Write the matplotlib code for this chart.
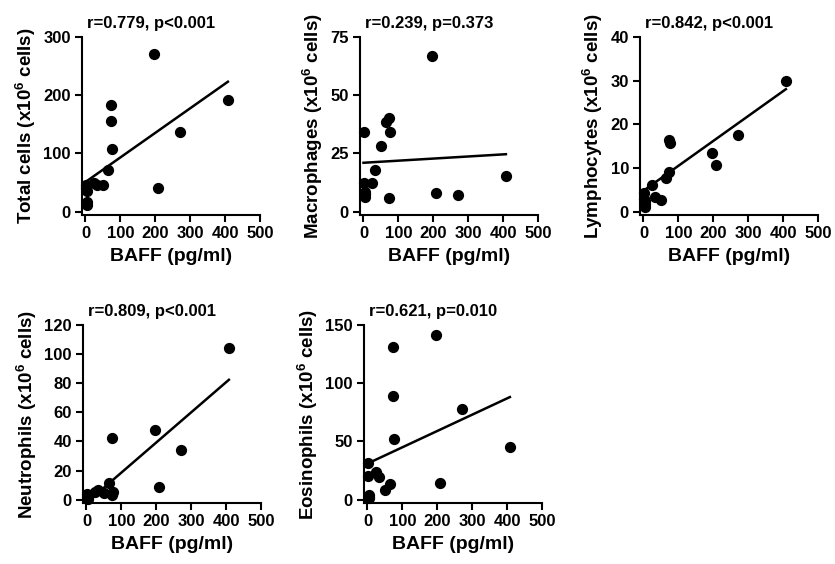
import numpy as np
import matplotlib
matplotlib.use("Agg")
import matplotlib.pyplot as plt

plt.rcParams['font.family'] = 'Liberation Sans'
plt.rcParams['font.weight'] = 'bold'
plt.rcParams['mathtext.fontset'] = 'custom'
plt.rcParams['mathtext.rm'] = 'Liberation Sans:bold'
plt.rcParams['mathtext.it'] = 'Liberation Sans:bold'
plt.rcParams['mathtext.bf'] = 'Liberation Sans:bold'

# BAFF (pg/ml), one value per mouse (n=16)
baff = [1, 2, 3, 4, 5, 24, 34, 49, 65, 72, 74, 75, 197, 207, 272, 408]

total = [45, 40, 36, 17, 12, 49, 46, 46, 71, 155, 183, 107, 270, 41, 137, 191]
macro = [34.3, 12.1, 8.6, 6.4, 7.5, 12.4, 17.9, 28.3, 38.3, 5.7, 40.4, 34.0, 66.7, 7.9, 7.1, 15.4]
lymph = [4.2, 3.0, 1.75, 1.1, 2.5, 6.1, 3.3, 2.7, 7.8, 16.4, 9.1, 15.8, 13.5, 10.7, 17.5, 30.0]
neutro = [4.0, 2.0, 0.3, 1.0, 3.0, 5.3, 6.9, 4.6, 11.5, 42.4, 3.0, 5.0, 47.7, 8.7, 34.4, 104.4]
eosino = [31.4, 20.6, 4.3, 1.4, 2.5, 23.4, 19.4, 8.6, 13.7, 89.0, 131.0, 52.0, 141.4, 14.3, 77.7, 44.9]

# regression lines: (intercept, slope)
fits = [(51, 0.422), (21, 0.009), (4.8, 0.057), (-2.1, 0.207), (31, 0.14)]

names = ['Total cells', 'Macrophages', 'Lymphocytes', 'Neutrophils', 'Eosinophils']
series = [total, macro, lymph, neutro, eosino]
titles = ['r=0.779, p<0.001', 'r=0.239, p=0.373', 'r=0.842, p<0.001',
          'r=0.809, p<0.001', 'r=0.621, p=0.010']
ymaxs = [300, 75, 40, 120, 150]
ysteps = [100, 25, 10, 20, 50]

# axes position in pixels (left, top)
pos = [(82, 37), (360, 37), (640, 37), (83, 325), (364, 325)]
W, H = 835, 564
aw, ah = 178, 178

fig = plt.figure(figsize=(8.35, 5.64), dpi=100)

for i in range(5):
    l, t = pos[i]
    ax = fig.add_axes([l / W, (H - t - ah) / H, aw / W, ah / H])
    ymax = ymaxs[i]
    ax.scatter(baff, series[i], s=50, color='black', zorder=3, clip_on=False)
    b0, b1 = fits[i]
    xl = np.array([0, max(baff)])
    ax.plot(xl, b0 + b1 * xl, color='black', lw=1.8, zorder=2)
    ax.set_xlim(-10, 500)
    ax.set_ylim(-0.019 * ymax, ymax)
    ax.set_xticks(np.arange(0, 501, 100))
    ax.set_yticks(np.arange(0, ymax + 1, ysteps[i]))
    for s in ['top', 'right']:
        ax.spines[s].set_visible(False)
    for s in ['left', 'bottom']:
        ax.spines[s].set_linewidth(1.5)
    ax.tick_params(width=1.5, length=5, labelsize=12, pad=3)
    for lab in ax.get_xticklabels() + ax.get_yticklabels():
        lab.set_fontweight('bold')
    ax.set_xlabel('BAFF (pg/ml)', fontsize=14, fontweight='bold', labelpad=5)
    ax.set_ylabel(names[i] + ' (x10$^6$ cells)', fontsize=13.5, fontweight='bold', labelpad=4)
    # stats text sits left of centre, just right of the y axis
    ax.text(0.03, 1.035, titles[i], transform=ax.transAxes, ha='left', va='bottom',
            fontsize=12, fontweight='bold')

fig.savefig('out.png', dpi=100)
